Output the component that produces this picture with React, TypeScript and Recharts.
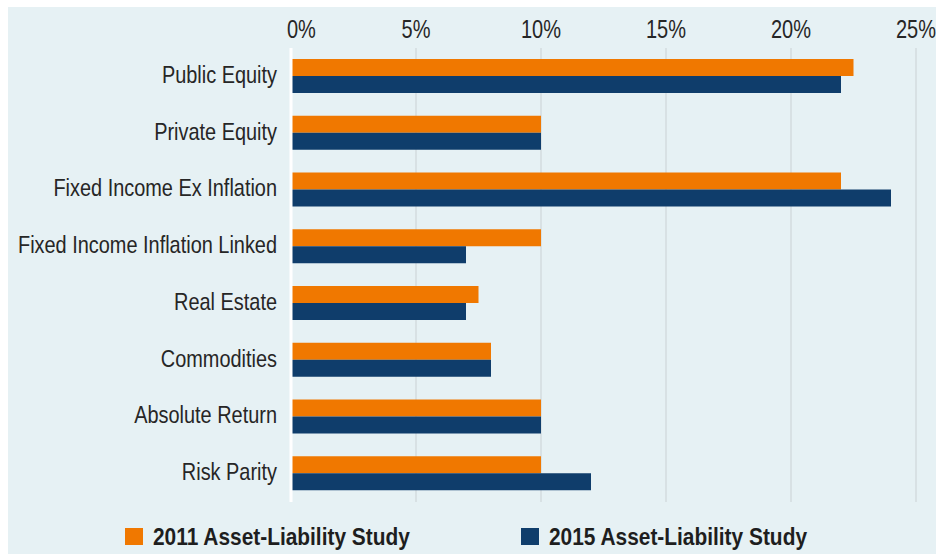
import React from "react";
import { BarChart, Bar, XAxis, YAxis, CartesianGrid, ReferenceLine, Legend } from "recharts";

const categories = [
  "Public Equity",
  "Private Equity",
  "Fixed Income Ex Inflation",
  "Fixed Income Inflation Linked",
  "Real Estate",
  "Commodities",
  "Absolute Return",
  "Risk Parity",
];
const study2011 = [22.5, 10, 22, 10, 7.5, 8, 10, 10];
const study2015 = [22, 10, 24, 7, 7, 8, 10, 12];
const xTicks = [0, 5, 10, 15, 20, 25];
const seriesNames = ["2011 Asset-Liability Study", "2015 Asset-Liability Study"];

const ORANGE = "#f07800";
const NAVY = "#0f3d6b";
const TEXT = "#262626";
const FONT = "'Liberation Sans', Arial, sans-serif";

const data = categories.map((c, i) => ({ name: c, a: study2011[i], b: study2015[i] }));

const CategoryTick = (props: any) => {
  const { x, y, payload } = props;
  return (
    <text
      transform={`translate(${x},${y}) scale(0.83,1)`}
      x={0}
      y={6.5}
      textAnchor="end"
      fill={TEXT}
      fontSize={24}
      fontFamily={FONT}
    >
      {payload.value}
    </text>
  );
};

const PercentTick = (props: any) => {
  const { x, y, payload } = props;
  const isZero = payload.value === 0;
  return (
    <text
      transform={`translate(${isZero ? x - 4 : x},${y}) scale(0.8,1)`}
      x={0}
      y={0}
      textAnchor={isZero ? "start" : "middle"}
      fill={TEXT}
      fontSize={25}
      fontFamily={FONT}
    >
      {`${payload.value}%`}
    </text>
  );
};

const legendItem = (left: number, color: string, label: string) => (
  <div style={{ position: "absolute", left, top: 0, height: 24 }}>
    <span style={{ position: "absolute", left: 0, top: 3, width: 18, height: 17, background: color }} />
    <span
      style={{
        position: "absolute",
        left: 28,
        top: 0,
        whiteSpace: "nowrap",
        transform: "scaleX(0.87)",
        transformOrigin: "0 0",
      }}
    >
      {label}
    </span>
  </div>
);

const renderLegend = () => (
  <div
    style={{
      position: "relative",
      height: 24,
      width: 936,
      fontFamily: FONT,
      fontWeight: 700,
      fontSize: 24,
      lineHeight: "24px",
      color: "#1e1e1e",
    }}
  >
    {legendItem(125, ORANGE, seriesNames[0])}
    {legendItem(521, NAVY, seriesNames[1])}
  </div>
);

export default function App() {
  return (
    <div style={{ position: "absolute", left: 0, top: 0, width: 936, height: 554, background: "#ffffff" }}>
      <div style={{ position: "absolute", left: 8, top: 7, width: 928, height: 547, background: "#e6f1f4" }} />
      <div style={{ position: "absolute", left: 0, top: 0 }}>
        <BarChart
          width={936}
          height={554}
          layout="vertical"
          data={data}
          margin={{ top: 0, right: 20, left: 0, bottom: 28 }}
          barSize={17}
          barGap={0}
        >
          <CartesianGrid horizontal={false} stroke="#d3dbdf" strokeWidth={1.5} />
          <XAxis
            type="number"
            orientation="top"
            domain={[0, 25]}
            ticks={xTicks}
            axisLine={false}
            tickLine={false}
            tickSize={0}
            tickMargin={10}
            height={48}
            tick={<PercentTick />}
            interval={0}
          />
          <YAxis
            type="category"
            dataKey="name"
            width={291}
            axisLine={false}
            tickLine={false}
            tickSize={0}
            tickMargin={14}
            interval={0}
            tick={<CategoryTick />}
          />
          <ReferenceLine x={0} stroke="#ffffff" strokeWidth={3} />
          <Bar dataKey="a" name={seriesNames[0]} fill={ORANGE} isAnimationActive={false} />
          <Bar dataKey="b" name={seriesNames[1]} fill={NAVY} isAnimationActive={false} />
          <Legend content={renderLegend} wrapperStyle={{ position: "absolute", left: 0, top: 525, width: 936 }} />
        </BarChart>
      </div>
    </div>
  );
}
